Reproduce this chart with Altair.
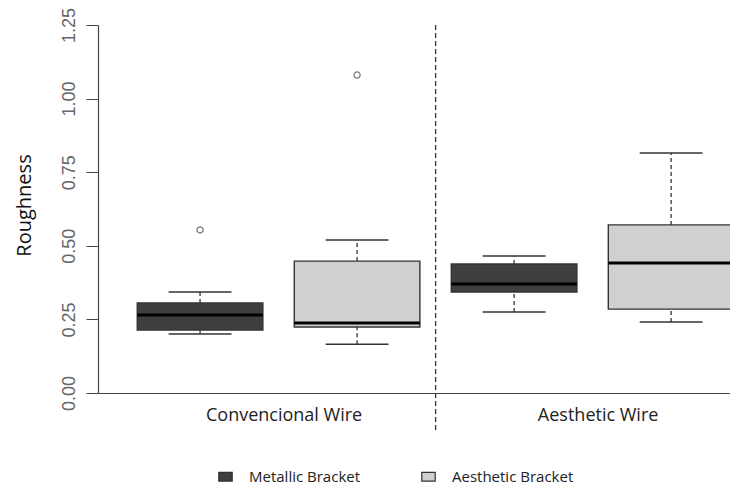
import altair as alt
import pandas as pd

# ---- data ----
wires = ["Convencional Wire", "Convencional Wire", "Aesthetic Wire", "Aesthetic Wire"]
brackets = ["Metallic Bracket", "Aesthetic Bracket", "Metallic Bracket", "Aesthetic Bracket"]
positions = [1, 2, 3, 4]
whisker_low = [0.200, 0.166, 0.275, 0.241]
q1 = [0.214, 0.224, 0.343, 0.285]
median = [0.265, 0.238, 0.370, 0.442]
q3 = [0.306, 0.448, 0.438, 0.571]
whisker_high = [0.343, 0.520, 0.465, 0.815]

outlier_pos = [1, 2]
outlier_val = [0.554, 1.080]

group_names = ["Convencional Wire", "Aesthetic Wire"]
group_centers = [1.5, 3.5]
separator_pos = [2.5]

bracket_order = ["Metallic Bracket", "Aesthetic Bracket"]
bracket_colors = ["#3f3f3f", "#d0d0d0"]

df = pd.DataFrame({
    "wire": wires, "bracket": brackets, "pos": positions,
    "lo": whisker_low, "q1": q1, "med": median, "q3": q3, "hi": whisker_high,
})
out_df = pd.DataFrame({"pos": outlier_pos, "val": outlier_val})
sep_df = pd.DataFrame({"pos": separator_pos})

FONT = "Open Sans"
x_scale = alt.Scale(domain=[0.35, 4.375], nice=False, zero=False)
y_scale = alt.Scale(domain=[0, 1.25], nice=False, zero=True)

label_expr = " : ".join(
    [f"datum.value < {c + 1} ? '{n}'" for c, n in zip(group_centers[:-1], group_names[:-1])]
    + [f"'{group_names[-1]}'"]
)

x_enc = alt.X(
    "pos:Q", scale=x_scale, title=None,
    axis=alt.Axis(values=group_centers, labelExpr=label_expr, ticks=False, grid=False,
                  domainColor="#444", domainWidth=1.2, labelFont=FONT, labelFontSize=18,
                  labelColor="#222", labelPadding=13, labelOffset=5),
)

base = alt.Chart(df)

whisk_up = base.mark_rule(color="#333", strokeWidth=1.3, strokeDash=[4, 3]).encode(
    x=x_enc, y=alt.Y("q3:Q", scale=y_scale), y2="hi:Q")
whisk_dn = base.mark_rule(color="#333", strokeWidth=1.3, strokeDash=[4, 3]).encode(
    x="pos:Q", y="lo:Q", y2="q1:Q")

caps_hi = base.transform_calculate(a="datum.pos - 0.2", b="datum.pos + 0.2").mark_rule(
    color="#333", strokeWidth=1.5).encode(x="a:Q", x2="b:Q", y="hi:Q")
caps_lo = base.transform_calculate(a="datum.pos - 0.2", b="datum.pos + 0.2").mark_rule(
    color="#333", strokeWidth=1.5).encode(x="a:Q", x2="b:Q", y="lo:Q")

boxes = base.transform_calculate(a="datum.pos - 0.4", b="datum.pos + 0.4").mark_rect(
    stroke="#333", strokeWidth=1.4).encode(
    x="a:Q", x2="b:Q", y="q1:Q", y2="q3:Q",
    color=alt.Color(
        "bracket:N",
        scale=alt.Scale(domain=bracket_order, range=bracket_colors),
        legend=alt.Legend(
            title=None, orient="none", legendX=120, legendY=444, direction="horizontal",
            symbolType="M-1,-0.65L1,-0.65L1,0.65L-1,0.65Z", symbolSize=180,
            symbolStrokeColor="#333", symbolStrokeWidth=1.2,
            labelFont=FONT, labelFontSize=15, labelColor="#222",
            columnPadding=58, labelOffset=16,
        ),
    ),
)

medians = base.transform_calculate(a="datum.pos - 0.4", b="datum.pos + 0.4").mark_rule(
    color="#000", strokeWidth=3).encode(x="a:Q", x2="b:Q", y="med:Q")

outliers = alt.Chart(out_df).mark_point(
    shape="circle", filled=False, color="#444", size=38, strokeWidth=1.3).encode(
    x="pos:Q", y="val:Q")

separator = alt.Chart(sep_df).mark_rule(
    color="#333", strokeWidth=1.3, strokeDash=[5, 3]).encode(
    x="pos:Q", y=alt.value(0), y2=alt.value(407))

y_axis_layer = alt.Chart(df).mark_point(opacity=0).encode(
    x="pos:Q",
    y=alt.Y("med:Q", scale=y_scale, title="Roughness",
            axis=alt.Axis(values=[0, 0.25, 0.5, 0.75, 1.0, 1.25], format=".2f", grid=False,
                          labelAngle=-90, labelAlign="center", labelBaseline="bottom",
                          labelFont="Liberation Sans", labelFontSize=18, labelColor="#666",
                          labelPadding=8, tickSize=12, tickColor="#444", domainColor="#444",
                          domainWidth=1.2,
                          titleFont=FONT, titleFontSize=20, titleFontWeight="normal",
                          titleColor="#111", titlePadding=26, titleY=180)),
)

chart = alt.layer(
    y_axis_layer, separator, whisk_up, whisk_dn, caps_hi, caps_lo, boxes, medians, outliers
).properties(
    width=632, height=368,
    autosize=alt.AutoSizeParams(type="none"),
    padding={"left": 90, "top": 17, "right": 0, "bottom": 96},
).configure(background="white").configure_view(stroke=None)

chart.save("out.html", embed_options={"renderer": "svg", "actions": False})
